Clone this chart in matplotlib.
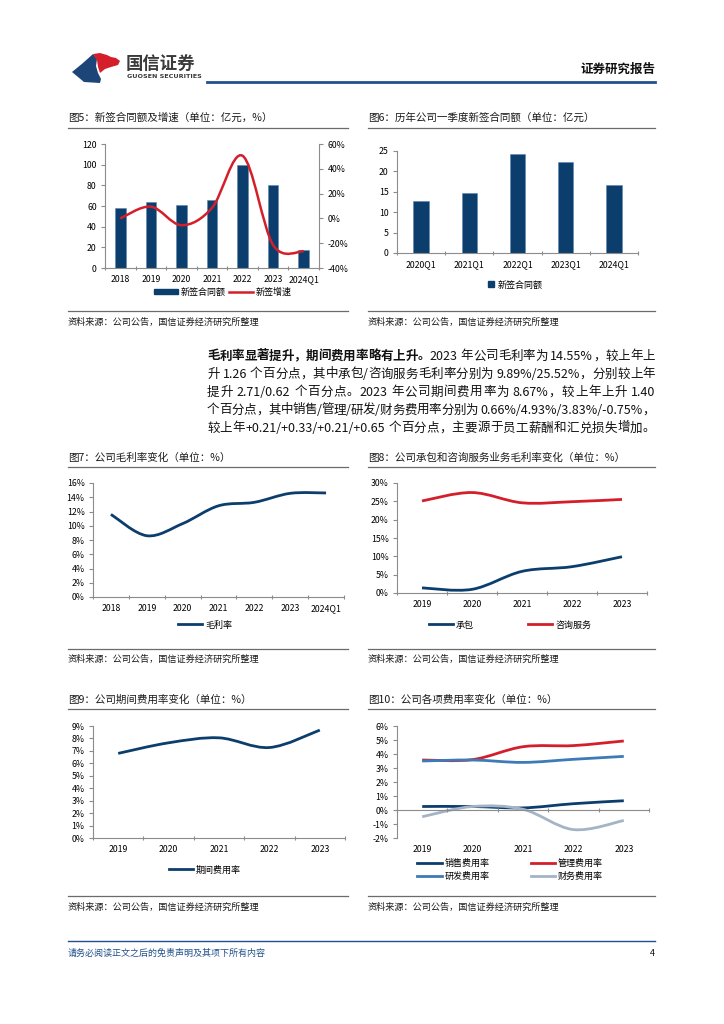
import matplotlib

matplotlib.use("Agg")
import matplotlib.pyplot as plt
import numpy as np
from matplotlib.lines import Line2D
from matplotlib.patches import PathPatch, Polygon, Rectangle
from matplotlib.path import Path
from matplotlib.ticker import FuncFormatter

plt.rcParams["font.family"] = ["Noto Sans CJK SC", "DejaVu Sans"]
plt.rcParams["axes.unicode_minus"] = False

W, H = 724, 1024

# ---- data ----
years_q = ["2018", "2019", "2020", "2021", "2022", "2023", "2024Q1"]
signed_amount = [58.5, 64, 60.5, 66, 99.5, 80, 17]
signed_growth = [0.0, 9.5, -5.5, 8.5, 50.5, -21.5, -26.5]

q1_labels = ["2020Q1", "2021Q1", "2022Q1", "2023Q1", "2024Q1"]
q1_signed = [12.8, 14.7, 24.2, 22.2, 16.6]

gross_margin = [11.6, 8.6, 10.3, 12.8, 13.29, 14.55, 14.6]

years = ["2019", "2020", "2021", "2022", "2023"]
margin_contract = [1.4, 1.0, 5.9, 7.18, 9.89]
margin_consult = [25.1, 27.4, 24.6, 24.9, 25.52]

period_expense = [6.8, 7.65, 8.05, 7.27, 8.67]

sales_rate = [0.25, 0.25, 0.15, 0.45, 0.66]
admin_rate = [3.57, 3.6, 4.52, 4.6, 4.93]
rd_rate = [3.5, 3.57, 3.4, 3.62, 3.83]
fin_rate = [-0.48, 0.25, 0.05, -1.4, -0.75]

NAVY = "#0c3e6d"
RED = "#d41f2b"
MIDBLUE = "#3c7bb8"
GREY = "#a4b3c6"
AXIS = "#8c8c8c"
HEADBLUE = "#22508c"
SOURCE = "资料来源：公司公告，国信证券经济研究所整理"
TICK = 6.3

fig = plt.figure(figsize=(W / 100, H / 100), dpi=100)


def fx(x):
    return x / W


def fy(y):
    return 1 - y / H


def add_ax(l, t, r, b):
    return fig.add_axes([fx(l), fy(b), (r - l) / W, (b - t) / H])


def hline(x0, x1, y, color, lw):
    fig.add_artist(Line2D([fx(x0), fx(x1)], [fy(y), fy(y)], color=color, lw=lw,
                          transform=fig.transFigure))


def pct(v, _):
    return f"{v:.0f}%"


def cat_axes(ax, labels, ylim, yticks, fmt=None, labelpad=5):
    n = len(labels)
    ax.set_xlim(-0.5, n - 0.5)
    ax.set_ylim(*ylim)
    for s in ["top", "right"]:
        ax.spines[s].set_visible(False)
    for s in ["left", "bottom"]:
        ax.spines[s].set_color(AXIS)
        ax.spines[s].set_linewidth(0.8)
    ax.set_yticks(yticks)
    if fmt is not None:
        ax.yaxis.set_major_formatter(FuncFormatter(fmt))
    ax.set_xticks(np.arange(n + 1) - 0.5)
    ax.set_xticks(np.arange(n), minor=True)
    ax.set_xticklabels(labels, minor=True)
    ax.tick_params(axis="x", which="major", length=3, direction="inout",
                   color=AXIS, labelbottom=False)
    ax.tick_params(axis="x", which="minor", length=0, labelsize=TICK, pad=labelpad)
    ax.tick_params(axis="y", length=3, direction="out", color=AXIS, labelsize=TICK, pad=3)
    ax.patch.set_alpha(0)


def smooth(ax, ys, color, lw=2.0):
    # Excel-style smoothed line through the data points (cubic Bezier)
    pts = np.column_stack([np.arange(len(ys)), ys]).astype(float)
    ext = np.vstack([pts[0], pts, pts[-1]])
    verts, codes = [pts[0]], [Path.MOVETO]
    for i in range(len(pts) - 1):
        p0, p1, p2, p3 = ext[i], ext[i + 1], ext[i + 2], ext[i + 3]
        verts += [p1 + (p2 - p0) / 6, p2 - (p3 - p1) / 6, p2]
        codes += [Path.CURVE4] * 3
    ax.add_patch(PathPatch(Path(verts, codes), fill=False, edgecolor=color, lw=lw,
                           capstyle="butt", joinstyle="round"))


def panel_frame(x0, x1, title, ty, rule_y, bottom_y, source_y):
    fig.text(fx(x0), fy(ty), title, fontsize=7.6, va="center", ha="left", color="#1a1a1a")
    hline(x0, x1, rule_y, "#6b6b6b", 0.9)
    hline(x0, x1, bottom_y, "#6b6b6b", 0.9)
    fig.text(fx(x0), fy(source_y), SOURCE, fontsize=6.6, va="center", ha="left", color="#1a1a1a")


def legend(handles, labels, cx, cy, ncol, **kw):
    opts = dict(loc="center", bbox_to_anchor=(fx(cx), fy(cy)), ncol=ncol, frameon=False,
                fontsize=6.5, handlelength=2.7, handletextpad=0.3, columnspacing=1.0,
                borderpad=0, borderaxespad=0)
    opts.update(kw)
    fig.legend(handles, labels, **opts)


# ---- header ----
blue_shape = [(72, 72), (83, 63), (93, 54), (97, 59), (96, 66), (98, 73), (101, 79), (100, 83),
              (84, 82)]
red_shape = [(93, 54), (100, 53), (107, 55), (111, 57), (116, 58), (120, 61), (118, 65),
             (111, 67), (105, 69), (100, 73), (98, 67), (97, 60)]
fig.add_artist(Polygon([(fx(x), fy(y)) for x, y in blue_shape], closed=True,
                       transform=fig.transFigure, color="#1d4577", lw=0))
fig.add_artist(Polygon([(fx(x), fy(y)) for x, y in red_shape], closed=True,
                       transform=fig.transFigure, color="#d41f2b", lw=0))
fig.text(fx(126), fy(64), "国信证券", fontsize=12.5, fontweight="bold", color="#3a3a3a",
         va="center", ha="left")
fig.text(fx(127), fy(77), "GUOSEN SECURITIES", fontsize=4.6, fontweight="bold",
         color="#3a3a3a", va="center", ha="left", family="DejaVu Sans")
fig.text(fx(655), fy(69), "证券研究报告", fontsize=9, fontweight="bold", color="#111111",
         va="center", ha="right")
hline(207, 655, 82, HEADBLUE, 2.0)

# ---- figure 5 ----
panel_frame(68, 348, "图5：新签合同额及增速（单位：亿元，%）", 118, 128, 311, 322)
ax5 = add_ax(105, 144, 319, 268)
cat_axes(ax5, years_q, (0, 120), np.arange(0, 121, 20))
ax5.bar(np.arange(len(signed_amount)), signed_amount, width=0.35, color=NAVY,
        edgecolor="#5b86b0", linewidth=0.4)
ax5r = ax5.twinx()
ax5r.set_ylim(-40, 60)
ax5r.set_yticks(np.arange(-40, 61, 20))
ax5r.yaxis.set_major_formatter(FuncFormatter(pct))
for s in ["top", "left", "bottom"]:
    ax5r.spines[s].set_visible(False)
ax5r.spines["right"].set_color(AXIS)
ax5r.spines["right"].set_linewidth(0.8)
ax5r.tick_params(axis="y", length=3, direction="out", color=AXIS, labelsize=TICK, pad=3)
smooth(ax5r, signed_growth, RED, 1.8)
legend([Rectangle((0, 0), 1, 1, color=NAVY), Line2D([], [], color=RED, lw=1.8)],
       ["新签合同额", "新签增速"], 223, 292, 2, handleheight=0.6, columnspacing=0.3)

# ---- figure 6 ----
panel_frame(368, 655, "图6：历年公司一季度新签合同额（单位：亿元）", 118, 128, 311, 322)
ax6 = add_ax(397, 151, 638, 253)
cat_axes(ax6, q1_labels, (0, 25), np.arange(0, 26, 5))
ax6.bar(np.arange(len(q1_signed)), q1_signed, width=0.32, color=NAVY,
        edgecolor="#5b86b0", linewidth=0.4)
legend([Line2D([], [], color=NAVY, marker="s", ls="none", markersize=4.5)], ["新签合同额"],
       515, 285, 1, handlelength=0.8)

# ---- paragraph ----
para = [
    [("毛利率显著提升，期间费用率略有上升。", True), ("2023 年公司毛利率为 14.55%，较上年上", False)],
    [("升 1.26 个百分点，其中承包/咨询服务毛利率分别为 9.89%/25.52%，分别较上年", False)],
    [("提升 2.71/0.62 个百分点。2023 年公司期间费用率为 8.67%，较上年上升 1.40", False)],
    [("个百分点，其中销售/管理/研发/财务费用率分别为 0.66%/4.93%/3.83%/-0.75%，", False)],
    [("较上年+0.21/+0.33/+0.21/+0.65 个百分点，主要源于员工薪酬和汇兑损失增加。", False)],
]
para_y = [356, 374, 392, 410, 428]
renderer = fig.canvas.get_renderer()
for segs, y in zip(para, para_y):
    tokens = []
    for s, bold in segs:
        run = ""
        for ch in s:
            if ord(ch) < 128 and ch != " ":
                run += ch
                continue
            if run:
                tokens.append((run, bold))
                run = ""
            tokens.append((ch, bold))
        if run:
            tokens.append((run, bold))
    arts, widths = [], []
    for tok, bold in tokens:
        if tok == " ":
            arts.append(None)
            widths.append(3.0)
            continue
        t = fig.text(0, fy(y), tok, fontsize=9, fontweight="bold" if bold else "normal",
                     va="center", ha="left", color="#111111")
        arts.append(t)
        widths.append(t.get_window_extent(renderer).width)
    gap = (655 - 207 - sum(widths)) / (len(tokens) - 1)
    x = 207.0
    for a, w in zip(arts, widths):
        if a is not None:
            a.set_x(fx(x))
        x += w + gap

# ---- figure 7 ----
panel_frame(68, 348, "图7：公司毛利率变化（单位：%）", 458, 467, 649, 659)
ax7 = add_ax(93, 483, 344, 597)
cat_axes(ax7, years_q, (0, 16), np.arange(0, 17, 2), pct)
smooth(ax7, gross_margin, NAVY, 2.0)
legend([Line2D([], [], color=NAVY, lw=2)], ["毛利率"], 205, 625, 1)

# ---- figure 8 ----
panel_frame(368, 655, "图8：公司承包和咨询服务业务毛利率变化（单位：%）", 458, 467, 649, 659)
ax8 = add_ax(397, 483, 647, 593)
cat_axes(ax8, years, (0, 30), np.arange(0, 31, 5), pct)
smooth(ax8, margin_contract, NAVY, 2.0)
smooth(ax8, margin_consult, RED, 2.0)
legend([Line2D([], [], color=NAVY, lw=2), Line2D([], [], color=RED, lw=2)],
       ["承包", "咨询服务"], 510, 625, 2, columnspacing=6.0)

# ---- figure 9 ----
panel_frame(68, 348, "图9：公司期间费用率变化（单位：%）", 700, 709, 896, 907)
ax9 = add_ax(93, 726, 345, 838)
cat_axes(ax9, years, (0, 9), np.arange(0, 10, 1), pct)
smooth(ax9, period_expense, NAVY, 2.0)
legend([Line2D([], [], color=NAVY, lw=2)], ["期间费用率"], 205, 870, 1)

# ---- figure 10 ----
panel_frame(368, 655, "图10：公司各项费用率变化（单位：%）", 700, 709, 896, 907)
ax10 = add_ax(397, 726, 649, 838)
cat_axes(ax10, years, (-2, 6), np.arange(-2, 7, 1), pct)
ax10.spines["bottom"].set_position(("data", 0))
ax10.set_xticklabels([], minor=True)
for i, lab in enumerate(years):
    ax10.text(i, -0.1, lab, transform=ax10.get_xaxis_transform(), fontsize=TICK,
              ha="center", va="center")
smooth(ax10, sales_rate, NAVY, 2.0)
smooth(ax10, admin_rate, RED, 2.0)
smooth(ax10, rd_rate, MIDBLUE, 2.0)
smooth(ax10, fin_rate, GREY, 2.0)
legend([Line2D([], [], color=c, lw=2) for c in (NAVY, MIDBLUE, RED, GREY)],
       ["销售费用率", "研发费用率", "管理费用率", "财务费用率"], 510, 870, 2,
       columnspacing=4.6, labelspacing=0.45)

# ---- footer ----
hline(68, 655, 941, HEADBLUE, 1.0)
fig.text(fx(68), fy(953), "请务必阅读正文之后的免责声明及其项下所有内容", fontsize=6.5,
         style="italic", color=HEADBLUE, va="center", ha="left")
fig.text(fx(655), fy(953), "4", fontsize=6.5, color="#111111", va="center", ha="right")

fig.savefig("out.png", dpi=100)
